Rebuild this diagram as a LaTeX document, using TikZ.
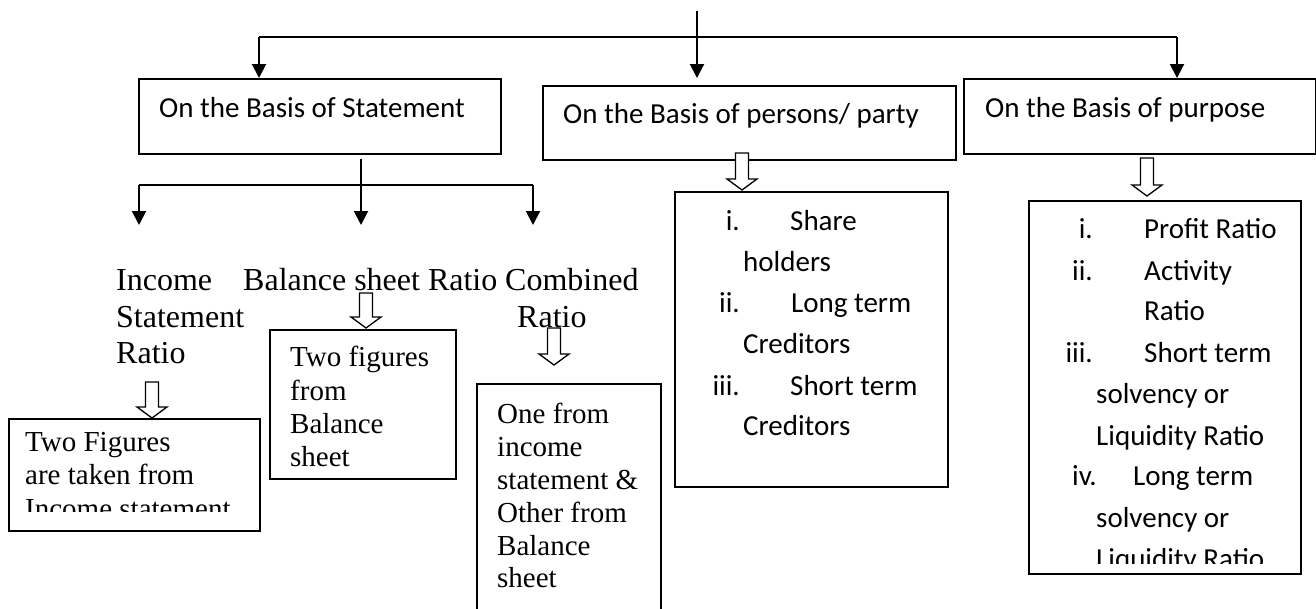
\documentclass[tikz,border=0pt]{standalone}
\usepackage{fontspec}
\newfontfamily\calfont{Carlito}
\newfontfamily\tnrfont{Liberation Serif}
\usetikzlibrary{arrows.meta}
\newcommand\hollowarrow[3]{%
  \draw[hol] (#1-6.5,#2) -- (#1+6.5,#2) -- (#1+6.5,#3-11) -- (#1+15,#3-11) -- (#1,#3)
    -- (#1-15,#3-11) -- (#1-6.5,#3-11) -- cycle;}
\begin{document}
\begin{tikzpicture}[x=1pt,y=-1pt,
  rbox/.style={draw, line width=1.8pt, inner sep=0pt, anchor=north west},
  lbl/.style={inner sep=0pt, anchor=base west},
  cal/.style={lbl, font=\calfont\fontsize{29}{35}\selectfont},
  calr/.style={cal, anchor=base east},
  tnrl/.style={lbl, font=\tnrfont\fontsize{32}{37}\selectfont},
  tnrs/.style={lbl, font=\tnrfont\fontsize{29}{33}\selectfont},
  conn/.style={line width=2pt},
  arr/.style={conn, -{Triangle[length=14pt,width=14pt]}},
  hol/.style={line width=1.3pt, line join=miter, fill=white}]
\useasboundingbox (0,0) rectangle (1316,608);
\clip (0,0) rectangle (1316,608);

% ---- top level boxes
\node[rbox, minimum width=362pt, minimum height=75pt] (b1) at (138,78) {};
\node[rbox, minimum width=413pt, minimum height=74pt] (b2) at (542,85) {};
\node[rbox, minimum width=352pt, minimum height=75pt] (b3) at (963,78) {};
\node[cal] (t1) at (159,117) {On the Basis of Statement};
\node[cal] (t2) at (563,123) {On the Basis of persons/ party};
\node[cal] (t3) at (985,117) {On the Basis of purpose};

% ---- top connectors
\coordinate (top) at (697,11);
\coordinate (bus) at (697,37);
\coordinate (busL) at (259,37);
\coordinate (busR) at (1177,37);
\coordinate (midtip) at (697,78);
\draw[conn] (top) -- (bus);
\draw[conn] (busL) -- (busR);
\draw[arr] (busL) -- (busL |- b1.north);
\draw[arr] (bus) -- (midtip);
\draw[arr] (busR) -- (busR |- b3.north);

% ---- statement subtree
\coordinate (s0) at (361,159);
\coordinate (s1) at (361,185);
\coordinate (sL) at (139,185);
\coordinate (sR) at (533,185);
\coordinate (tL) at (139,225);
\coordinate (tM) at (361,225);
\coordinate (tR) at (533,225);
\draw[conn] (s0) -- (s1);
\draw[conn] (sL) -- (sR);
\draw[arr] (sL) -- (tL);
\draw[arr] (s1) -- (tM);
\draw[arr] (sR) -- (tR);

\node[tnrl] (l1a) at (116,290) {Income};
\node[tnrl] (l1b) at (116,327) {Statement};
\node[tnrl] (l1c) at (116,363) {Ratio};
\node[tnrl] (l2) at (243,290) {Balance sheet Ratio};
\node[tnrl] (l3a) at (505,290) {Combined};
\node[tnrl] (l3b) at (517,327) {Ratio};

% ---- third level boxes
\node[rbox, minimum width=251pt, minimum height=112pt] (ib) at (8,418) {};
\node[rbox, minimum width=186pt, minimum height=149pt] (bb) at (269,329) {};
\node[rbox, minimum width=184pt, minimum height=240pt] (cb) at (476,383) {};
\node[rbox, minimum width=273pt, minimum height=295pt] (pl) at (674,191) {};
\node[rbox, minimum width=272pt, minimum height=373pt] (ul) at (1028,200) {};

% ---- hollow arrows
\hollowarrow{152}{382}{418}
\hollowarrow{366}{293}{328}
\hollowarrow{554}{328}{365}
\hollowarrow{742}{153}{190}
\hollowarrow{1147}{158}{196}

% ---- income box text
\begin{scope}
  \clip (0,0) rectangle (1316,511);
  \node[tnrs] (i1) at (25,451) {Two Figures};
  \node[tnrs] (i2) at (25,484) {are taken from};
  \node[tnrs] (i3) at (25,518) {Income statement};
\end{scope}

% ---- balance box text
\node[tnrs] (bt1) at (290,366) {Two figures};
\node[tnrs] (bt2) at (290,400) {from};
\node[tnrs] (bt3) at (290,433) {Balance};
\node[tnrs] (bt4) at (290,466) {sheet};

% ---- combined box text
\node[tnrs] (c1) at (497,423) {One from};
\node[tnrs] (c2) at (497,456) {income};
\node[tnrs] (c3) at (497,489) {statement \&};
\node[tnrs] (c4) at (497,522) {Other from};
\node[tnrs] (c5) at (497,555) {Balance};
\node[tnrs] (c6) at (497,587) {sheet};

% ---- persons list
\node[calr] (p1n) at (740,230) {i.};
\node[cal]  (p1) at (790,230) {Share};
\node[cal]  (p1c) at (743,271) {holders};
\node[calr] (p2n) at (740,312) {ii.};
\node[cal]  (p2) at (791,312) {Long term};
\node[cal]  (p2c) at (743,353) {Creditors};
\node[calr] (p3n) at (740,395) {iii.};
\node[cal]  (p3) at (790,395) {Short term};
\node[cal]  (p3c) at (743,435) {Creditors};

% ---- purpose list
\node[calr] (u1n) at (1093,238) {i.};
\node[cal]  (u1) at (1144,238) {Profit Ratio};
\node[calr] (u2n) at (1093,280) {ii.};
\node[cal]  (u2) at (1144,280) {Activity};
\node[cal]  (u2c) at (1144,320) {Ratio};
\node[calr] (u3n) at (1093,362) {iii.};
\node[cal]  (u3) at (1144,362) {Short term};
\node[cal]  (u3c) at (1096,403) {solvency or};
\node[cal]  (u3d) at (1096,445) {Liquidity Ratio};
\node[calr] (u4n) at (1097,485) {iv.};
\node[cal]  (u4) at (1133,485) {Long term};
\node[cal]  (u4c) at (1096,527) {solvency or};
\begin{scope}
  \clip (0,0) rectangle (1316,563);
  \node[cal] (u4d) at (1096,568) {Liquidity Ratio};
\end{scope}
\end{tikzpicture}
\end{document}
